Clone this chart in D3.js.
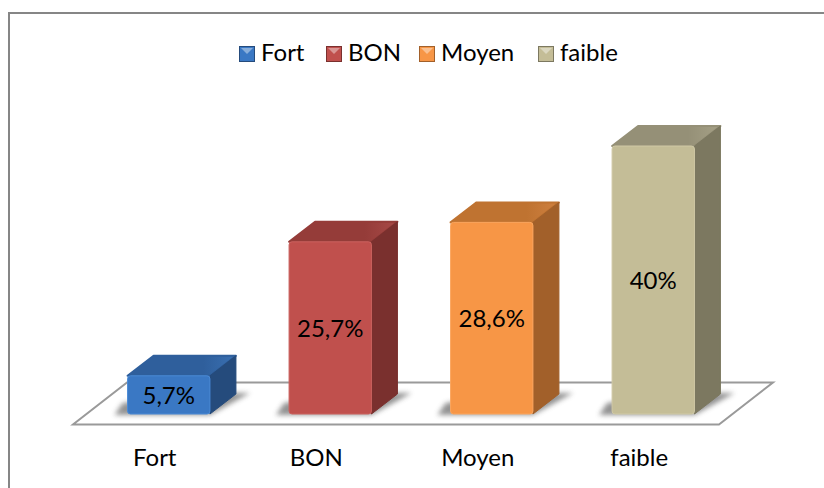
<!DOCTYPE html>
<html>
<head>
<meta charset="utf-8">
<script src="https://cdn.jsdelivr.net/npm/d3@7"></script>
<style>
html, body { margin: 0; padding: 0; background: #fff; }
svg { display: block; }
text { font-family: Lato, "Open Sans", sans-serif; fill: #000; }
</style>
</head>
<body>
<svg width="824" height="488"></svg>
<script>
const categories = ["Fort", "BON", "Moyen", "faible"];
const values = [5.7, 25.7, 28.6, 40];
const valueLabels = ["5,7%", "25,7%", "28,6%", "40%"];

const front = ["#3a78c4", "#c0504d", "#f79646", "#c4bd97"];
const edge = ["#4a8ad6", "#cb625f", "#fba65e", "#d0c9a6"];
const topFace = ["#2f5f9c", "#953c39", "#bf7331", "#959077"];
const topLight = ["#3a70b2", "#a84a47", "#cf8040", "#a5a086"];
const sideFace = ["#254b7c", "#7a302e", "#a2602a", "#7c7860"];

const svg = d3.select("svg");

const x = d3.scaleBand()
    .domain(categories)
    .range([88, 734])
    .paddingInner(0.49)
    .paddingOuter(0.245);

const y = d3.scaleLinear()
    .domain([0, 40])
    .range([414, 146]);

const depthX = 26, depthY = 20;
const w = x.bandwidth();

const defs = svg.append("defs");
defs.append("filter").attr("id", "soft")
    .attr("x", "-30%").attr("y", "-30%").attr("width", "160%").attr("height", "160%")
    .append("feGaussianBlur").attr("stdDeviation", 2.5);

categories.forEach((d, i) => {
    const g = defs.append("linearGradient").attr("id", "top" + i);
    g.append("stop").attr("offset", "70%").attr("stop-color", topFace[i]);
    g.append("stop").attr("offset", "100%").attr("stop-color", topLight[i]);
});

// frame: only top and left edges are in the picture
svg.append("path")
    .attr("d", "M9,488 L9,13 L824,13")
    .attr("fill", "none")
    .attr("stroke", "#868686")
    .attr("stroke-width", 2);

// floor
svg.append("path")
    .attr("d", "M73,424.5 L719,424.5 L773,382.5 L127,382.5 Z")
    .attr("fill", "#fff")
    .attr("stroke", "#9a9a9a")
    .attr("stroke-width", 2);

const bars = svg.selectAll("g.bar")
    .data(categories)
    .enter().append("g")
    .attr("class", "bar");

// shadow on the floor
bars.append("path")
    .attr("d", d => {
        const l = x(d) - 13, r = x(d) + w;
        return `M${l},415 L${r},415 L${r + depthX + 14},${414 - depthY - 1} L${r},${414 - depthY - 1} L${l + 8},403 Z`;
    })
    .attr("fill", "#6e6e6e")
    .attr("opacity", 0.75)
    .attr("filter", "url(#soft)");

// top face
bars.append("path")
    .attr("d", (d, i) => {
        const l = x(d), t = y(values[i]);
        return `M${l},${t} L${l + depthX},${t - depthY} L${l + w + depthX},${t - depthY} L${l + w},${t} Z`;
    })
    .attr("fill", (d, i) => `url(#top${i})`)
    .attr("stroke", (d, i) => topFace[i])
    .attr("stroke-linejoin", "round")
    .attr("stroke-width", 2);

// side face
bars.append("path")
    .attr("d", (d, i) => {
        const r = x(d) + w, t = y(values[i]);
        return `M${r},${t} L${r + depthX},${t - depthY} L${r + depthX},${414 - depthY} L${r},414 Z`;
    })
    .attr("fill", (d, i) => sideFace[i])
    .attr("stroke", (d, i) => sideFace[i])
    .attr("stroke-linejoin", "round");

// front face
bars.append("rect")
    .attr("x", d => x(d))
    .attr("y", (d, i) => y(values[i]))
    .attr("width", w)
    .attr("height", (d, i) => 414 - y(values[i]))
    .attr("rx", 3)
    .attr("fill", (d, i) => front[i])
    .attr("stroke", (d, i) => edge[i])
    .attr("stroke-width", 1);

// value labels
bars.append("text")
    .attr("x", d => x(d) + w / 2)
    .attr("y", (d, i) => (y(values[i]) + 414) / 2 + 9)
    .attr("text-anchor", "middle")
    .attr("font-size", 24)
    .text((d, i) => valueLabels[i]);

// category labels
svg.selectAll("text.cat")
    .data(categories)
    .enter().append("text")
    .attr("class", "cat")
    .attr("x", d => x(d) + w / 2 - 14)
    .attr("y", 466)
    .attr("text-anchor", "middle")
    .attr("font-size", 24)
    .text(d => d);

// legend
const legendX = [239, 326, 419, 538];
const legend = svg.selectAll("g.legend")
    .data(categories)
    .enter().append("g")
    .attr("class", "legend")
    .attr("transform", (d, i) => `translate(${legendX[i]},46)`);

legend.append("rect")
    .attr("x", 0.5).attr("y", 0.5)
    .attr("width", 15).attr("height", 15)
    .attr("fill", (d, i) => front[i])
    .attr("stroke", (d, i) => sideFace[i]);

legend.append("path")
    .attr("d", "M2,2 L14,2 L8,8 Z")
    .attr("fill", "#fff")
    .attr("opacity", 0.4);

legend.append("text")
    .attr("x", 22)
    .attr("y", 15)
    .attr("font-size", 24)
    .text(d => d);
</script>
</body>
</html>
